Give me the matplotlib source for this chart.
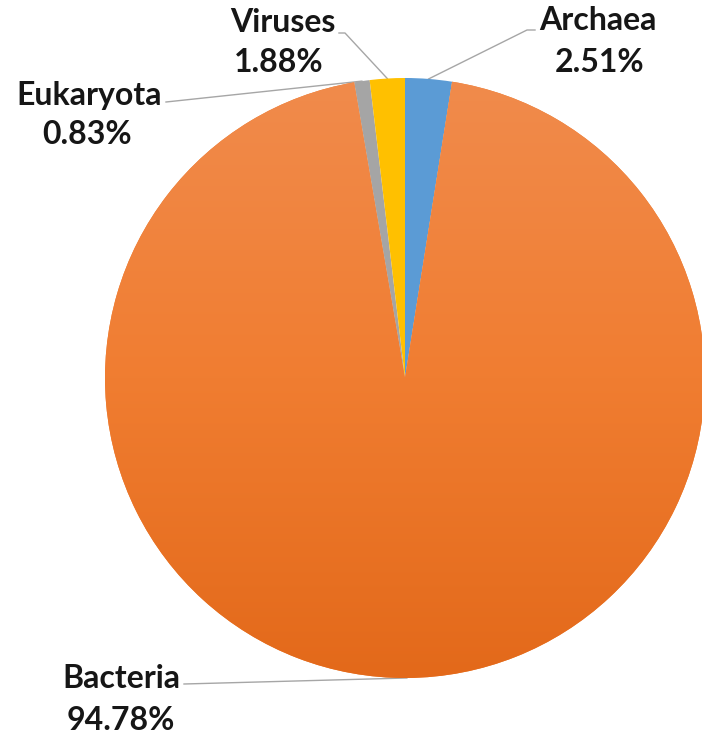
import numpy as np
import matplotlib
matplotlib.use("Agg")
import matplotlib.pyplot as plt
from matplotlib.colors import LinearSegmentedColormap

# Share of sequences per domain
domains = ["Archaea", "Bacteria", "Eukaryota", "Viruses"]
shares = [2.51, 94.78, 0.83, 1.88]
colors = ["#5B9BD5", "#ED7D31", "#A5A5A5", "#FFC000"]

W, H = 702, 736
fig = plt.figure(figsize=(W / 100, H / 100), dpi=100)
ax = fig.add_axes([0, 0, 1, 1])

cx, cy, r = 405, 358, 300
wedges, _ = ax.pie(shares, colors=colors, startangle=90, counterclock=False,
                   center=(cx, cy), radius=r, frame=True,
                   wedgeprops=dict(linewidth=0))
ax.set_xlim(0, W)
ax.set_ylim(0, H)
ax.set_aspect("equal")
ax.axis("off")

# vertical shading on the large wedge
grad = LinearSegmentedColormap.from_list(
    "shade", ["#F18B4C", "#F07D31", "#E3691A"])
g = np.linspace(0, 1, 256).reshape(-1, 1)
img = ax.imshow(g, cmap=grad, extent=[cx - r, cx + r, cy - r, cy + r],
                origin="upper", aspect="auto", zorder=wedges[1].get_zorder() + 0.1,
                interpolation="bicubic")
img.set_clip_path(wedges[1])

# label layout in pixel coords from the top: name centre, value centre, leader points
label_pos = {
    "Archaea":   ((598, 21), (600, 63), [(535, 30), (527, 30)]),
    "Bacteria":  ((121, 679), (121, 721), [(184, 684)]),
    "Eukaryota": ((89, 95), (87, 134), [(166, 102)]),
    "Viruses":   ((283, 22), (279, 63), [(339, 33), (345, 33)]),
}

font = dict(ha="center", va="center", fontsize=23, fontweight="bold",
            family=["Lato", "DejaVu Sans"], color="#161616")

for name, val, w in zip(domains, shares, wedges):
    mid = np.deg2rad((w.theta1 + w.theta2) / 2)
    px, py = cx + r * np.cos(mid), cy + r * np.sin(mid)
    (nx, ny), (qx, qy), pts = label_pos[name]
    xs = [p[0] for p in pts] + [px]
    ys = [H - p[1] for p in pts] + [py]
    ax.plot(xs, ys, color="#A6A6A6", lw=1.0, zorder=0.5)
    ax.text(nx, H - ny, name, **font)
    ax.text(qx, H - qy, f"{val:.2f}%", **font)

fig.savefig("out.png", dpi=100, facecolor="white")
